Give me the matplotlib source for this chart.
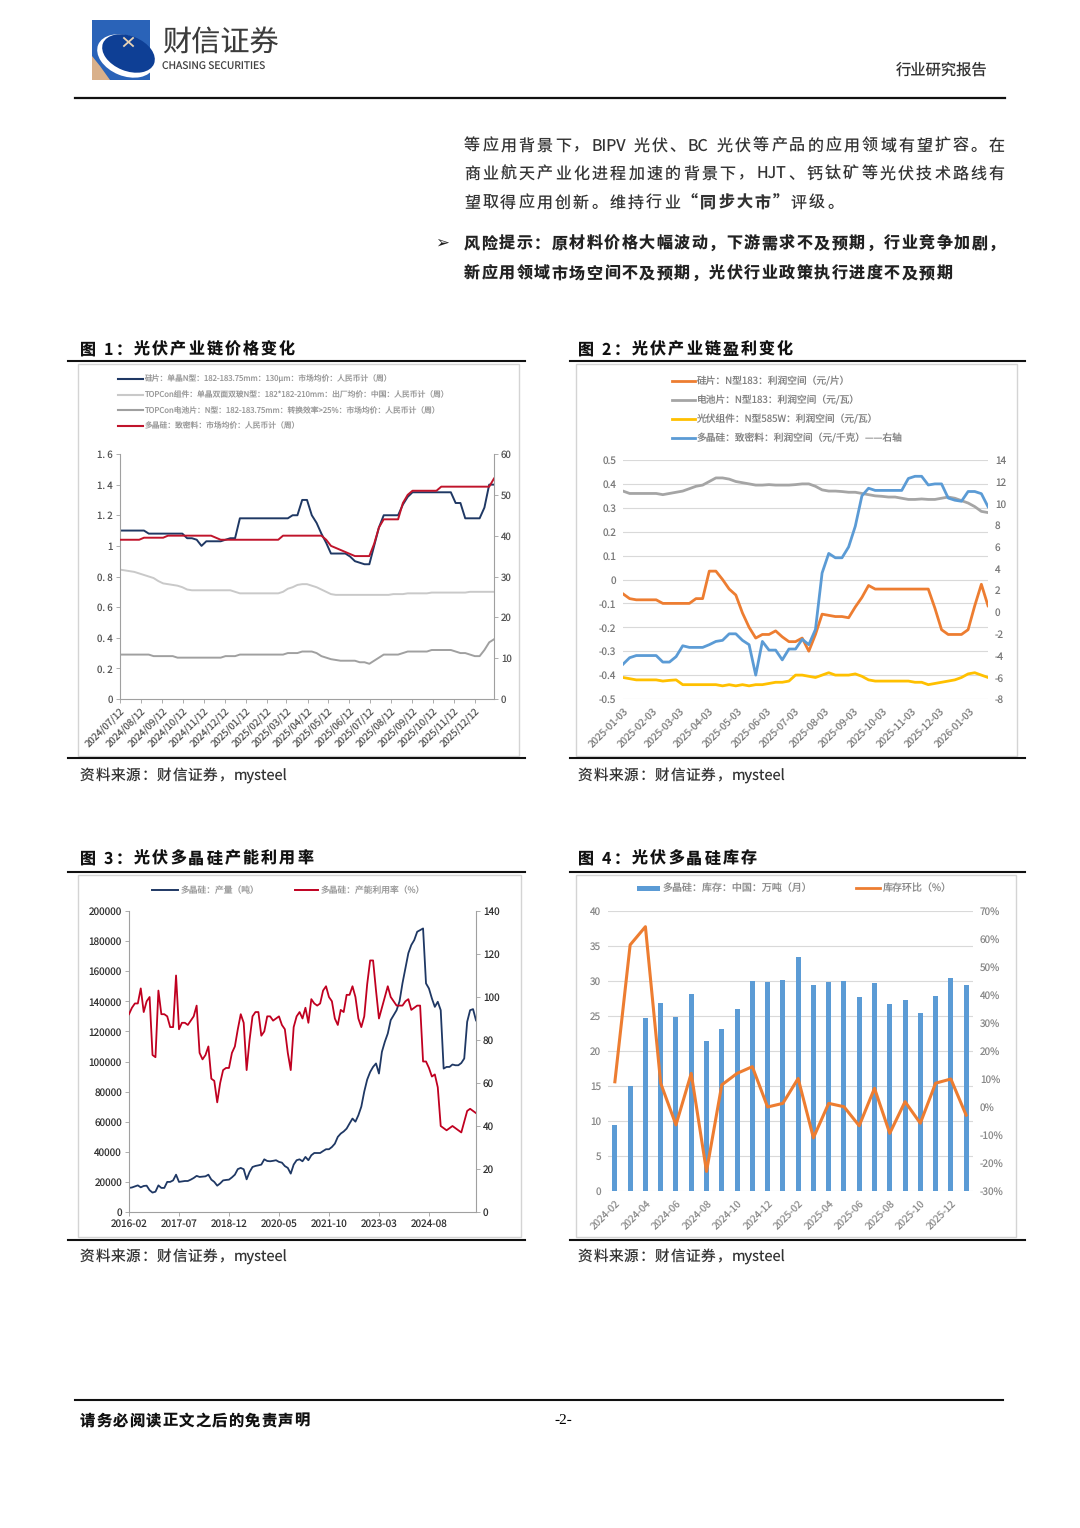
import re
import numpy as np
import pandas as pd
import matplotlib
matplotlib.use("Agg")
import matplotlib.pyplot as plt
from matplotlib.patches import Rectangle, Polygon, Ellipse

plt.rcParams["font.family"] = ["Noto Sans CJK SC", "DejaVu Sans"]
plt.rcParams["axes.unicode_minus"] = False
plt.rcParams["text.hinting"] = "no_hinting"

W, H = 1080, 1528

# ---------- 图1 光伏产业链价格变化（周度，2024/07/12 起） ----------
wafer_price = [1.10, 1.10, 1.10, 1.10, 1.10, 1.10,
               1.08, 1.08, 1.08, 1.08, 1.08, 1.08, 1.08, 1.08,
               1.05, 1.05, 1.04, 1.00, 1.03, 1.03, 1.03, 1.03, 1.04, 1.05, 1.05,
               1.18, 1.18, 1.18, 1.18, 1.18, 1.18, 1.18, 1.18, 1.18, 1.18, 1.18,
               1.20, 1.20, 1.30, 1.30, 1.20, 1.15, 1.08, 1.02,
               0.95, 0.95, 0.95, 0.95, 0.93, 0.90, 0.89, 0.88, 0.88,
               1.00, 1.12, 1.20, 1.20, 1.20, 1.20, 1.27, 1.32,
               1.35, 1.35, 1.35, 1.35, 1.35, 1.35, 1.35, 1.35, 1.35,
               1.28, 1.28, 1.18, 1.18, 1.18, 1.18, 1.25, 1.40, 1.40]
module_price = [0.845, 0.84, 0.835, 0.83, 0.82, 0.81, 0.80, 0.79, 0.77, 0.755,
                0.75, 0.745, 0.74, 0.73, 0.715,
                0.71, 0.71, 0.71, 0.71, 0.71, 0.71, 0.71, 0.71, 0.71, 0.70,
                0.69, 0.69, 0.69, 0.69, 0.69, 0.69, 0.69, 0.69, 0.69,
                0.70, 0.72, 0.73, 0.745, 0.75, 0.75, 0.74, 0.73, 0.715, 0.70, 0.685,
                0.68, 0.68, 0.68, 0.68, 0.68, 0.68, 0.68, 0.68, 0.68, 0.68, 0.68, 0.68,
                0.685, 0.685, 0.685, 0.69, 0.69, 0.69, 0.69, 0.69,
                0.695, 0.695, 0.695, 0.695, 0.695, 0.695, 0.695, 0.695,
                0.70, 0.70, 0.70, 0.70, 0.70, 0.70]
cell_price = [0.29, 0.29, 0.29, 0.29, 0.29, 0.29, 0.29,
              0.28, 0.28, 0.28, 0.28, 0.28,
              0.27, 0.27, 0.27, 0.27, 0.27, 0.27, 0.27, 0.27, 0.27, 0.27,
              0.28, 0.28, 0.28,
              0.29, 0.29, 0.29, 0.29, 0.29, 0.29, 0.29, 0.29, 0.29, 0.29,
              0.30, 0.30, 0.30, 0.31, 0.31, 0.31, 0.30, 0.28, 0.27, 0.26, 0.255,
              0.25, 0.25, 0.25, 0.25, 0.24, 0.24, 0.23, 0.25, 0.27,
              0.29, 0.29, 0.29, 0.29, 0.30, 0.31, 0.31, 0.31, 0.31, 0.31,
              0.32, 0.32, 0.32, 0.32, 0.32, 0.31, 0.30, 0.30, 0.29, 0.28, 0.28,
              0.32, 0.37, 0.39]
poly_price = [39, 39, 39, 39, 39, 39.5, 39.5, 39.5, 39.5, 39.5,
              40, 40, 40, 40, 40, 40, 40, 40, 40, 40, 39.5,
              39, 39, 39, 39, 39, 39, 39, 39, 39, 39, 39, 39, 39,
              40, 40, 40, 40, 40, 40, 40, 40, 40,
              39, 37.5, 37, 36.5, 36, 35.5, 35, 35, 35, 35,
              38, 42, 44, 44, 44, 44, 48, 50,
              51, 51, 51, 51, 51, 51,
              52, 52, 52, 52, 52, 52, 52, 52, 52, 52, 52, 54]
price_left_ticks = [0, 0.2, 0.4, 0.6, 0.8, 1.0, 1.2, 1.4, 1.6]
price_left_labels = ["0", "0. 2", "0. 4", "0. 6", "0. 8", "1", "1. 2", "1. 4", "1. 6"]
price_right_ticks = [0, 10, 20, 30, 40, 50, 60]
price_legend = ["硅片：单晶N型：182-183.75mm：130μm：市场均价：人民币计（周）",
                "TOPCon组件：单晶双面双玻N型：182*182-210mm：出厂均价：中国：人民币计（周）",
                "TOPCon电池片：N型：182-183.75mm：转换效率>25%：市场均价：人民币计（周）",
                "多晶硅：致密料：市场均价：人民币计（周）"]

# ---------- 图2 光伏产业链盈利变化（周度，2025-01-03 起） ----------
wafer_profit = [-0.06, -0.08, -0.085, -0.085, -0.085, -0.085, -0.10, -0.10, -0.10, -0.10,
                -0.10, -0.08, -0.08, 0.035, 0.035, 0.0, -0.04, -0.065, -0.14, -0.20,
                -0.245, -0.23, -0.23, -0.215, -0.24, -0.26, -0.26, -0.245, -0.30, -0.23,
                -0.145, -0.15, -0.155, -0.155, -0.16, -0.115, -0.075, -0.025, -0.04, -0.04,
                -0.04, -0.04, -0.04, -0.04, -0.04, -0.04, -0.04, -0.12, -0.21, -0.23,
                -0.23, -0.23, -0.21, -0.11, -0.02, -0.11]
cell_profit = [0.37, 0.36, 0.36, 0.36, 0.36, 0.36, 0.355, 0.36, 0.365, 0.37,
               0.38, 0.39, 0.395, 0.41, 0.425, 0.425, 0.42, 0.41, 0.405, 0.40,
               0.395, 0.395, 0.397, 0.395, 0.395, 0.395, 0.397, 0.40, 0.40, 0.39,
               0.375, 0.37, 0.37, 0.368, 0.365, 0.365, 0.36, 0.355, 0.35, 0.348,
               0.345, 0.345, 0.34, 0.335, 0.335, 0.337, 0.335, 0.335, 0.34, 0.345,
               0.34, 0.33, 0.32, 0.305, 0.285, 0.28]
module_profit = [-0.41, -0.415, -0.42, -0.42, -0.42, -0.42, -0.425, -0.422, -0.42, -0.44,
                 -0.44, -0.44, -0.44, -0.44, -0.44, -0.445, -0.44, -0.445, -0.44, -0.445,
                 -0.44, -0.44, -0.435, -0.43, -0.43, -0.425, -0.40, -0.40, -0.405, -0.41,
                 -0.40, -0.39, -0.40, -0.40, -0.40, -0.395, -0.405, -0.42, -0.425, -0.425,
                 -0.425, -0.425, -0.425, -0.425, -0.43, -0.43, -0.44, -0.435, -0.43, -0.425,
                 -0.42, -0.41, -0.395, -0.39, -0.40, -0.41]
poly_profit = [-4.8, -4.2, -4.0, -4.0, -4.0, -4.0, -4.6, -4.6, -4.1, -3.1,
               -3.25, -3.25, -3.25, -3.0, -2.7, -2.6, -2.0, -2.0, -2.6, -3.0,
               -5.8, -2.7, -3.5, -3.5, -4.4, -3.4, -3.4, -2.5, -3.0, -1.6,
               3.6, 5.4, 5.0, 5.0, 6.0, 7.9, 10.7, 11.4, 11.2, 11.2,
               11.2, 11.2, 11.2, 12.3, 12.5, 12.5, 11.7, 11.8, 11.8, 10.5,
               10.3, 10.2, 11.1, 11.1, 10.9, 9.7]
profit_left_ticks = [-0.5, -0.4, -0.3, -0.2, -0.1, 0, 0.1, 0.2, 0.3, 0.4, 0.5]
profit_left_labels = ["-0.5", "-0.4", "-0.3", "-0.2", "-0.1", "0", "0.1", "0.2", "0.3", "0.4", "0.5"]
profit_right_ticks = [-8, -6, -4, -2, 0, 2, 4, 6, 8, 10, 12, 14]
profit_legend = ["硅片：N型183：利润空间（元/片）",
                 "电池片：N型183：利润空间（元/瓦）",
                 "光伏组件：N型585W：利润空间（元/瓦）",
                 "多晶硅：致密料：利润空间（元/千克）——右轴"]

# ---------- 图3 光伏多晶硅产能利用率（月度，2016-02 起） ----------
poly_output = [16000, 16300, 17000, 17700, 16400, 17300, 17500, 14500, 12900, 13500,
               17700, 16000, 16000, 20000, 20000, 21000, 24800, 20000, 20300, 20600,
               20600, 21500, 22600, 24000, 23300, 23500, 23700, 24800, 21500, 20000,
               17500, 19000, 21000, 21300, 21500, 23000, 24800, 28500, 29300, 28400,
               21700, 26600, 29900, 30600, 31000, 31500, 35000, 33900, 33700, 34000,
               34400, 33300, 32800, 30500, 29300, 25500, 31500, 34400, 35000, 33700,
               36600, 34400, 37700, 39200, 39200, 39200, 40500, 41700, 41700, 43200,
               45400, 49900, 52100, 53500, 55400, 58800, 62100, 60000, 64300, 70000,
               80000, 88000, 93000, 96400, 98700, 92000, 106400, 113100, 118600, 127500,
               130800, 134100, 140000, 152000, 162000, 172000, 177400, 180700, 186200, 187300,
               188400, 151900, 148500, 141900, 136300, 139700, 134100, 95300, 96400, 96400,
               98000, 97500, 97500, 99000, 102000, 126400, 134100, 134800, 127300]
poly_util = [92, 95, 97, 97, 104, 93, 98, 100, 73, 72,
             103, 92, 92, 91, 86, 86, 110, 85, 88, 88,
             87, 89, 91, 96, 74, 71, 73, 77, 62, 61,
             51, 60, 66, 67, 67, 74, 77, 85, 92, 88,
             66, 80, 91, 93, 93, 82, 84, 91, 91, 89,
             90, 91, 87, 85, 74, 66, 86, 91, 93, 90,
             95, 88, 99, 97, 96, 97, 103, 105, 100, 98,
             90, 87, 94, 93, 101, 101, 105, 100, 90, 86,
             91, 106, 117, 117, 103, 90, 95, 100, 105, 100,
             98, 96, 96, 96, 98, 99, 94, 95, 96, 96,
             70, 70, 67, 63, 64, 58, 40, 39, 38, 39,
             40, 39, 38, 37, 42, 47, 48, 47, 46]
output_ticks = [0, 20000, 40000, 60000, 80000, 100000, 120000, 140000, 160000, 180000, 200000]
util_ticks = [0, 20, 40, 60, 80, 100, 120, 140]

# ---------- 图4 光伏多晶硅库存（月度，2024-02 起） ----------
poly_stock = [9.4, 15.0, 24.7, 26.9, 24.9, 28.1, 21.4, 23.1, 26.0, 30.0, 29.8, 30.1,
              33.4, 29.4, 29.8, 30.0, 27.7, 29.7, 26.7, 27.3, 25.5, 27.8, 30.5, 29.5]
stock_mom = [9.0, 57.9, 64.4, 8.5, -6.4, 12.0, -23.0, 7.9, 12.0, 14.4, 0.0, 1.3,
             10.2, -11.0, 1.3, 0.1, -6.7, 6.7, -9.4, 1.9, -5.8, 8.5, 10.0, -2.9]
stock_ticks = [0, 5, 10, 15, 20, 25, 30, 35, 40]
mom_ticks = [-30, -20, -10, 0, 10, 20, 30, 40, 50, 60, 70]

NAVY, RED = "#1F3864", "#C0142B"
ORANGE, GREY, YELLOW, BLUE = "#ED7D31", "#A5A5A5", "#FFC000", "#5B9BD5"


def rect(l, t, r, b):
    return [l / W, 1 - b / H, (r - l) / W, (b - t) / H]


fig = plt.figure(figsize=(W / 100, H / 100), dpi=100)
fig.patch.set_facecolor("white")
bg = fig.add_axes([0, 0, 1, 1])
bg.set_xlim(0, W)
bg.set_ylim(H, 0)
bg.axis("off")
renderer = fig.canvas.get_renderer()


def spaced(x, y, segs, size, x1=None, gap=0.0, color="#222", style="normal"):
    # place text token by token so the letter spacing can follow the page
    yb = y + size * 100 / 72 * 0.36
    arts, widths = [], []
    for s, w in segs:
        for tok in re.findall(r"[A-Za-z0-9.]+|.", s):
            a = bg.text(0, yb, tok, fontsize=size, fontweight=w, va="baseline",
                        color=color, style=style)
            arts.append(a)
            widths.append(a.get_window_extent(renderer=renderer).width)
    if x1 is not None and len(arts) > 1:
        gap = (x1 - x - sum(widths)) / (len(arts) - 1)
    for a, wd in zip(arts, widths):
        a.set_x(x)
        x += wd + gap
    return gap


# ---------- page header ----------
bg.add_patch(Rectangle((92, 20), 58, 60, color="#2A63B8", lw=0))
bg.add_patch(Polygon([(92, 56), (92, 80), (110, 80), (100, 66)], color="#D9B08A", lw=0))
bg.add_patch(Ellipse((126, 56), 60, 40, angle=22, color="white", lw=0))
bg.add_patch(Ellipse((128.5, 53.5), 55, 35, angle=22, color="#0E3F95", lw=0))
bg.plot([124, 133], [38, 46], color="#E8D3B5", lw=1.3)
bg.plot([124, 133], [46, 38], color="#E8D3B5", lw=1.3)
bg.text(162, 43, "财信证券", fontsize=21, color="#3C3C3C", va="center")
bg.text(162, 67, "CHASING SECURITIES", fontsize=7.4, color="#444444", va="center")
bg.text(988, 70, "行业研究报告", fontsize=11, color="#333333", va="center", ha="right")
bg.plot([75, 1005], [98, 98], color="#111111", lw=1.6)

# ---------- body text ----------
g = spaced(464, 145, [("等应用背景下，BIPV 光伏、BC 光伏等产品的应用领域有望扩容。在", "normal")],
           11.5, x1=1005, color="#333")
spaced(464, 173, [("商业航天产业化进程加速的背景下，HJT、钙钛矿等光伏技术路线有", "normal")],
       11.5, x1=1005, color="#333")
spaced(464, 202, [("望取得应用创新。维持行业", "normal"), ("“同步大市”", "bold"),
                  ("评级。", "normal")], 11.5, gap=g, color="#333")
bg.text(435, 243, "➢", fontsize=12, va="center", color="#222", family="DejaVu Sans")
g2 = spaced(464, 243, [("风险提示：原材料价格大幅波动，下游需求不及预期，行业竞争加剧，", "bold")],
            11.5, x1=1005)
spaced(464, 273, [("新应用领域市场空间不及预期，光伏行业政策执行进度不及预期", "bold")],
       11.5, gap=g2)

# ---------- chart frames, titles, sources ----------
titles = [(80, 349, "图 1：光伏产业链价格变化"), (578, 349, "图 2：光伏产业链盈利变化"),
          (80, 858, "图 3：光伏多晶硅产能利用率"), (578, 858, "图 4：光伏多晶硅库存")]
for x, y, s in titles:
    spaced(x, y, [(s, "bold")], 11.5, gap=2.2, color="#111")
for x0, x1 in [(68, 525), (570, 1025)]:
    bg.plot([x0, x1], [361, 361], color="#111", lw=1.5)
    bg.plot([x0, x1], [758, 758], color="#111", lw=1.5)
    bg.plot([x0, x1], [872, 872], color="#111", lw=1.5)
    bg.plot([x0, x1], [1240, 1240], color="#111", lw=1.5)
for l, t, r, b in [(78, 364, 519, 756), (576, 364, 1017, 756),
                   (78, 875, 521, 1237), (576, 875, 1016, 1237)]:
    bg.add_patch(Rectangle((l, t), r - l, b - t, fill=False, ec="#D4D4D4", lw=1))
for x, y in [(80, 775), (578, 775), (80, 1256), (578, 1256)]:
    spaced(x, y, [("资料来源：财信证券，mysteel", "normal")], 10.5, gap=0.8,
           color="#333", style="italic")

# ---------- footer ----------
bg.plot([75, 1003], [1400, 1400], color="#111", lw=1.5)
spaced(80, 1420, [("请务必阅读正文之后的免责声明", "bold")], 11, gap=1.2, color="#111")
bg.text(563, 1420, "-2-", fontsize=11, ha="center", va="center", family="Liberation Serif")

# ---------- legends ----------
for i, (lab, col) in enumerate(zip(price_legend, [NAVY, "#C9C9C9", "#A0A0A0", RED])):
    y = 379 + i * 15.7
    bg.plot([118, 143], [y, y], color=col, lw=1.5)
    bg.text(145, y, lab, fontsize=5.6, color="#9A9A9A", va="center")
for i, (lab, col) in enumerate(zip(profit_legend, [ORANGE, GREY, YELLOW, BLUE])):
    y = 381 + i * 19
    bg.plot([672, 695], [y, y], color=col, lw=2)
    bg.text(697, y, lab, fontsize=7, color="#808080", va="center")
bg.plot([152, 178], [890, 890], color=NAVY, lw=1.4)
bg.text(181, 890, "多晶硅：产量（吨）", fontsize=6.3, color="#9A9A9A", va="center")
bg.plot([295, 318], [890, 890], color="#C00020", lw=1.4)
bg.text(321, 890, "多晶硅：产能利用率（%）", fontsize=6.3, color="#9A9A9A", va="center")
bg.add_patch(Rectangle((637, 886), 23, 5, color=BLUE, lw=0))
bg.text(663, 888, "多晶硅：库存：中国：万吨（月）", fontsize=7.2, color="#8A8A8A", va="center")
bg.plot([856, 880], [888, 888], color=ORANGE, lw=2)
bg.text(883, 888, "库存环比（%）", fontsize=7.2, color="#8A8A8A", va="center")

# ---------- 图1 ----------
d1 = pd.date_range("2024-07-12", periods=len(wafer_price), freq="7D")
ax1 = fig.add_axes(rect(120, 454, 494, 699))
ax1.plot(d1, module_price, color="#C9C9C9", lw=1.4)
ax1.plot(d1, cell_price, color="#A0A0A0", lw=1.4)
ax1.plot(d1, wafer_price, color=NAVY, lw=1.4)
ax1r = ax1.twinx()
ax1r.plot(d1, poly_price, color=RED, lw=1.4)
ax1.set_xlim(d1[0], d1[-1])
ax1.set_ylim(0, 1.6)
ax1r.set_ylim(0, 60)
ax1.set_yticks(price_left_ticks)
ax1.set_yticklabels(price_left_labels)
ax1r.set_yticks(price_right_ticks)
t1 = pd.date_range("2024-07-12", "2025-12-12", freq=pd.DateOffset(months=1))
ax1.set_xticks(t1)
ax1.set_xticklabels([t.strftime("%Y/%m/%d") for t in t1], rotation=45, ha="right",
                    rotation_mode="anchor")
for a in (ax1, ax1r):
    a.patch.set_visible(False)
    a.spines["top"].set_visible(False)
    for s in ("left", "bottom", "right"):
        a.spines[s].set_color("#A0A0A0")
        a.spines[s].set_linewidth(0.8)
    a.tick_params(length=3, width=0.6, color="#A0A0A0", labelsize=7, labelcolor="#555", pad=2)
ax1.spines["right"].set_visible(False)
ax1r.spines["left"].set_visible(False)
ax1r.spines["bottom"].set_visible(False)

# ---------- 图2 ----------
d2 = pd.date_range("2025-01-03", periods=len(wafer_profit), freq="7D")
ax2 = fig.add_axes(rect(623, 460, 988, 699))
ax2.set_axisbelow(True)
ax2.grid(axis="y", color="#D9D9D9", lw=0.8)
ax2.plot(d2, cell_profit, color=GREY, lw=2)
ax2.plot(d2, wafer_profit, color=ORANGE, lw=2)
ax2.plot(d2, module_profit, color=YELLOW, lw=2)
ax2r = ax2.twinx()
ax2r.plot(d2, poly_profit, color=BLUE, lw=2)
ax2.set_xlim(d2[0], d2[-1])
ax2.set_ylim(-0.5, 0.5)
ax2r.set_ylim(-8, 14)
ax2.set_yticks(profit_left_ticks)
ax2.set_yticklabels(profit_left_labels)
ax2r.set_yticks(profit_right_ticks)
t2 = pd.date_range("2025-01-03", "2026-01-03", freq=pd.DateOffset(months=1))
ax2.set_xticks(t2)
ax2.set_xticklabels([t.strftime("%Y-%m-%d") for t in t2], rotation=45, ha="right",
                    rotation_mode="anchor")
for a in (ax2, ax2r):
    a.patch.set_visible(False)
    for s in a.spines.values():
        s.set_visible(False)
    a.tick_params(length=0, labelsize=7.2, labelcolor="#7A7A7A", pad=5)

# ---------- 图3 ----------
months3 = pd.period_range("2016-02", periods=len(poly_output), freq="M")
x3 = np.arange(len(months3))
ax3 = fig.add_axes(rect(129, 911, 476, 1212))
ax3.plot(x3, poly_output, color=NAVY, lw=1.3)
ax3r = ax3.twinx()
ax3r.plot(x3, poly_util, color="#C00020", lw=1.3)
ax3.set_xlim(0, x3[-1])
ax3.set_ylim(0, 200000)
ax3r.set_ylim(0, 140)
ax3.set_yticks(output_ticks)
ax3r.set_yticks(util_ticks)
ax3.set_xticks(x3[::17])
ax3.set_xticklabels(months3[::17].strftime("%Y-%m"))
for a in (ax3, ax3r):
    a.patch.set_visible(False)
    a.spines["top"].set_visible(False)
    for s in ("left", "bottom", "right"):
        a.spines[s].set_color("#A0A0A0")
        a.spines[s].set_linewidth(0.8)
    a.tick_params(length=3, width=0.6, color="#A0A0A0", labelsize=7.2, labelcolor="#333", pad=2)
ax3.spines["right"].set_visible(False)
ax3r.spines["left"].set_visible(False)
ax3r.spines["bottom"].set_visible(False)

# ---------- 图4 ----------
months4 = pd.period_range("2024-02", periods=len(poly_stock), freq="M")
x4 = np.arange(len(months4))
ax4 = fig.add_axes(rect(608, 911, 973, 1191))
ax4.set_axisbelow(True)
ax4.grid(axis="y", color="#D9D9D9", lw=0.8)
ax4.bar(x4, poly_stock, width=0.33, color=BLUE)
ax4r = ax4.twinx()
ax4r.plot(x4, stock_mom, color=ORANGE, lw=2.2)
ax4.set_xlim(-0.45, len(x4) - 0.55)
ax4.set_ylim(0, 40)
ax4r.set_ylim(-30, 70)
ax4.set_yticks(stock_ticks)
ax4r.set_yticks(mom_ticks)
ax4r.set_yticklabels([f"{v}%" for v in mom_ticks])
ax4.set_xticks(x4[::2])
ax4.set_xticklabels(months4[::2].strftime("%Y-%m"), rotation=45, ha="right",
                    rotation_mode="anchor")
for a in (ax4, ax4r):
    a.patch.set_visible(False)
    for s in a.spines.values():
        s.set_visible(False)
    a.tick_params(length=0, labelsize=7.2, labelcolor="#8A8A8A", pad=5)

fig.savefig("out.png", dpi=100)
